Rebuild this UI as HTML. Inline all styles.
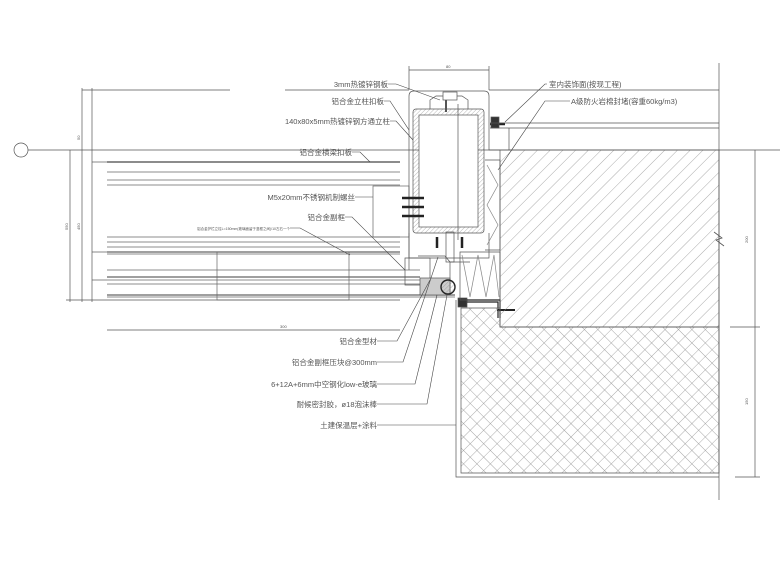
<!DOCTYPE html>
<html><head><meta charset="utf-8"><style>
html,body{margin:0;padding:0;background:#fff}
svg{display:block}
text{font-family:"Liberation Sans","Noto Sans CJK SC",sans-serif;fill:#555}
</style></head><body>
<svg width="780" height="585" viewBox="0 0 780 585" xmlns="http://www.w3.org/2000/svg">
<defs>
<pattern id="diag" width="9" height="9" patternUnits="userSpaceOnUse" patternTransform="rotate(45)">
<line x1="0" y1="0" x2="0" y2="9" stroke="#888" stroke-width="0.7"/>
</pattern>
<pattern id="cross" width="9.5" height="9.5" patternUnits="userSpaceOnUse" patternTransform="rotate(45)">
<path d="M0 0V9.5M0 0H9.5" stroke="#888" stroke-width="0.7" fill="none"/>
</pattern>
<pattern id="steel" width="3" height="3" patternUnits="userSpaceOnUse" patternTransform="rotate(45)">
<line x1="0" y1="0" x2="0" y2="3" stroke="#888" stroke-width="0.6"/>
</pattern>
</defs>
<g stroke="#555" stroke-width="0.7" fill="none">
<circle cx="21" cy="150" r="7"/>
<line x1="28" y1="150" x2="780" y2="150"/>
<line x1="82" y1="90" x2="230" y2="90"/>
<line x1="285" y1="90" x2="409" y2="90"/>
<line x1="489" y1="90" x2="719" y2="90"/>
<line x1="82" y1="88" x2="82" y2="302"/>
<line x1="92" y1="88" x2="92" y2="302"/>
<line x1="70" y1="150" x2="70" y2="302"/>
<line x1="66" y1="300" x2="400" y2="300"/>
<line x1="92" y1="162" x2="107" y2="162"/>
<line x1="92" y1="252" x2="107" y2="252"/>
<line x1="92" y1="280" x2="107" y2="280"/>
<line x1="107" y1="330" x2="400" y2="330"/>
<g stroke="#666">
<line x1="107" y1="162" x2="400" y2="162" stroke-width="1.4"/>
<line x1="107" y1="172" x2="400" y2="172"/>
<line x1="107" y1="180" x2="400" y2="180"/>
<line x1="107" y1="185" x2="400" y2="185"/>
<line x1="107" y1="237" x2="400" y2="237"/>
<line x1="107" y1="242" x2="400" y2="242"/>
<line x1="107" y1="247" x2="400" y2="247"/>
<line x1="107" y1="252" x2="400" y2="252" stroke-width="1.2"/>
<line x1="107" y1="254" x2="400" y2="254"/>
<line x1="107" y1="270" x2="420" y2="270"/>
<line x1="107" y1="277" x2="420" y2="277" stroke-width="1.2"/>
<line x1="107" y1="280" x2="420" y2="280"/>
<line x1="107" y1="284" x2="420" y2="284"/>
<line x1="107" y1="295" x2="455" y2="295" stroke-width="1.2"/>
<line x1="107" y1="297" x2="455" y2="297"/>
<rect x="217" y="252" width="132" height="48"/>
<rect x="373" y="186" width="36" height="51"/>
</g>
<path d="M409 96 Q409 91 414 91 H484 Q489 91 489 96 V150 H500"/>
<line x1="409" y1="96" x2="409" y2="270"/>
<line x1="409" y1="70" x2="489" y2="70"/>
<line x1="409" y1="66" x2="409" y2="90"/><line x1="489" y1="66" x2="489" y2="90"/>
<rect x="413" y="109" width="71" height="124" rx="3" fill="url(#steel)"/>
<rect x="419" y="115" width="59" height="112" fill="#fff"/>
<line x1="458" y1="104" x2="458" y2="240"/>
<path d="M430 109 V100 L436 96 H462 L468 100 V109"/>
<rect x="443" y="92" width="14" height="8" fill="#fff"/>
<line x1="446" y1="100" x2="446" y2="112" stroke-width="2"/>
<g stroke="#222" stroke-width="2.5">
<line x1="402" y1="198" x2="424" y2="198"/>
<line x1="402" y1="207" x2="424" y2="207"/>
<line x1="402" y1="216" x2="424" y2="216"/>
<line x1="437" y1="237" x2="437" y2="248"/>
<line x1="462" y1="237" x2="462" y2="248"/>
<line x1="490" y1="124" x2="505" y2="124"/>
</g>
<rect x="491" y="117" width="8" height="11" fill="#333"/>
<path d="M409 233 V258 H489 V233"/>
<path d="M405 258 H430 V285 H405 Z"/>
<path d="M418 256 H445 L450 262 H470"/>
<rect x="446" y="232" width="8" height="30"/>
<line x1="450" y1="262" x2="450" y2="295"/>
<rect x="420" y="278" width="30" height="17" fill="#ccc"/>
<circle cx="448" cy="287" r="7" fill="url(#steel)" stroke="#222" stroke-width="1.4"/>
<rect x="458" y="298" width="9" height="9" fill="#333"/>
<path d="M485 160 H500 V250 M485 250 H500" />
<path d="M487 165 L498 185 L487 205 L498 225 L487 245" stroke="#888"/>
<path d="M460 252 H500 V300 H460 Z"/>
<path d="M462 255 L470 297 L478 255 L486 297 L494 255 L499 297" stroke="#888"/>
<path d="M467 300 H500 V318 M467 302 H498 V318" stroke="#222" stroke-width="1.2"/>
<line x1="497" y1="310" x2="515" y2="310" stroke="#222" stroke-width="2"/>
<rect x="500" y="150" width="219" height="177" fill="url(#diag)"/>
<path d="M461 308 H500 V327 H719 V473 H461 Z" fill="url(#cross)"/>
<path d="M456 300 V477 H719"/>
<line x1="719" y1="63" x2="719" y2="500"/>
<path d="M714 232 L722 238 L716 240 L724 246" stroke-width="0.8"/>
<line x1="490" y1="123" x2="719" y2="123"/>
<line x1="490" y1="128" x2="719" y2="128"/>
<line x1="509" y1="128" x2="509" y2="150"/>
<line x1="755" y1="150" x2="755" y2="477"/>
<line x1="730" y1="327" x2="760" y2="327"/>
<line x1="735" y1="477" x2="760" y2="477"/>
<g stroke="#444" stroke-width="0.6">
<path d="M388 84 H396 L440 100"/>
<path d="M384 101 H390 L409 130"/>
<path d="M390 121 H396 L413 140"/>
<path d="M352 152 H360 L370 162"/>
<path d="M355 197 H373"/>
<path d="M345 217 H352 L405 270"/>
<path d="M290 228 H300 L350 255"/>
<path d="M547 84 H545 L505 122"/>
<path d="M570 101 H545 L498 170"/>
<path d="M377 341 H397 L430 280"/>
<path d="M377 362 H403 L438 257"/>
<path d="M377 384 H415 L437 295"/>
<path d="M377 404 H427 L447 295"/>
<path d="M377 425 H456"/>
</g>
</g>
<g font-size="7.5">
<text x="388" y="87" text-anchor="end">3mm热镀锌钢板</text>
<text x="384" y="104" text-anchor="end">铝合金立柱扣板</text>
<text x="390" y="124" text-anchor="end">140x80x5mm热镀锌钢方通立柱</text>
<text x="352" y="155" text-anchor="end">铝合金横梁扣板</text>
<text x="355" y="200" text-anchor="end">M5x20mm不锈钢机制螺丝</text>
<text x="345" y="220" text-anchor="end">铝合金副框</text>
<text x="290" y="230" text-anchor="end" font-size="3.5">铝合金护栏立柱L=150mm(玻璃面留于竖框之间)/10左右一个</text>
<text x="549" y="87">室内装饰面(按现工程)</text>
<text x="571" y="104">A级防火岩棉封堵(容重60kg/m3)</text>
<text x="377" y="344" text-anchor="end">铝合金型材</text>
<text x="377" y="365" text-anchor="end">铝合金副框压块@300mm</text>
<text x="377" y="387" text-anchor="end">6+12A+6mm中空钢化low-e玻璃</text>
<text x="377" y="407" text-anchor="end">耐候密封胶，ø18泡沫棒</text>
<text x="377" y="428" text-anchor="end">土建保温层+涂料</text>
<g font-size="4">
<text x="280" y="328">300</text><text x="446" y="68">80</text>
<text x="748" y="243" transform="rotate(-90 748 243)">200</text>
<text x="748" y="405" transform="rotate(-90 748 405)">150</text>
<text x="80" y="140" transform="rotate(-90 80 140)">50</text>
<text x="80" y="230" transform="rotate(-90 80 230)">450</text>
<text x="68" y="230" transform="rotate(-90 68 230)">550</text>
</g>
</g>
</svg>
</body></html>
